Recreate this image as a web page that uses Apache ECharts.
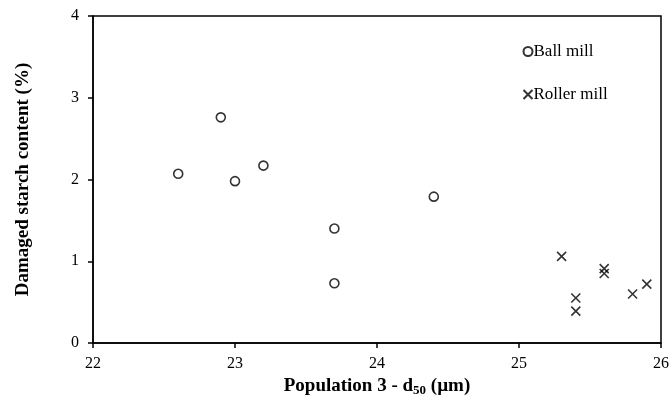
<!DOCTYPE html>
<html>
<head>
<meta charset="utf-8">
<script src="https://cdn.jsdelivr.net/npm/echarts@6/dist/echarts.min.js"></script>
<style>
  html, body { margin: 0; padding: 0; background: #fff; }
  #chart { width: 672px; height: 403px; }
</style>
</head>
<body>
<div id="chart"></div>
<script>
// values
var ballX = [22.6, 22.9, 23.0, 23.2, 23.7, 23.7, 24.4];
var ballY = [2.07, 2.76, 1.98, 2.17, 1.40, 0.73, 1.79];
var rollerX = [25.3, 25.4, 25.4, 25.6, 25.6, 25.8, 25.9];
var rollerY = [1.06, 0.55, 0.39, 0.91, 0.85, 0.60, 0.72];

var font = "'Liberation Serif', 'Times New Roman', serif";

function pairs(xs, ys) {
	return xs.map(function (x, i) {
		return [x, ys[i]];
	});
}

var chart = echarts.init(document.getElementById("chart"));

var option = {
	animation: false,
	textStyle: { fontFamily: font, color: "#000" },
	grid: {
		left: 93,
		right: 7,
		top: 16,
		bottom: 60,
		show: true,
		borderColor: "#000",
		borderWidth: 1.5,
		backgroundColor: "transparent"
	},
	legend: {
		orient: "vertical",
		left: 516,
		top: 38,
		itemGap: 26,
		itemWidth: 9,
		itemHeight: 9,
		textStyle: { fontFamily: font, fontSize: 17, color: "#000", padding: [0, 0, 0, -4] },
		data: ["Ball mill", "Roller mill"]
	},
	xAxis: {
		type: "value",
		min: 22,
		max: 26,
		interval: 1,
		name: "{b|Population 3 - d}{sub|50}{b| (µm)}",
		nameLocation: "middle",
		nameGap: 32,
		nameTextStyle: {
			rich: {
				b: { fontFamily: font, fontSize: 19, fontWeight: "bold", color: "#000" },
				sub: { fontFamily: font, fontSize: 13, fontWeight: "bold", color: "#000", verticalAlign: "bottom", padding: [8, 0, 0, 0] }
			}
		},
		axisLine: { lineStyle: { color: "#000", width: 1.5 } },
		axisTick: { show: true, length: 5, lineStyle: { color: "#000", width: 1.5 } },
		axisLabel: { fontFamily: font, fontSize: 16, color: "#000", margin: 13 },
		splitLine: { show: false }
	},
	yAxis: {
		type: "value",
		min: 0,
		max: 4,
		interval: 1,
		name: "Damaged starch content (%)",
		nameLocation: "middle",
		nameGap: 60,
		nameTextStyle: { fontFamily: font, fontSize: 19, fontWeight: "bold", color: "#000" },
		axisLine: { lineStyle: { color: "#000", width: 1.5 } },
		axisTick: { show: true, length: 5, lineStyle: { color: "#000", width: 1.5 } },
		axisLabel: { fontFamily: font, fontSize: 16, color: "#000", margin: 14 },
		splitLine: { show: false }
	},
	series: [{
		name: "Ball mill",
		type: "scatter",
		symbol: "circle",
		symbolSize: 9,
		itemStyle: { color: "#fff", borderColor: "#000", borderWidth: 1.6 },
		data: pairs(ballX, ballY)
	}, {
		name: "Roller mill",
		type: "scatter",
		symbol: "path://M0,0L10,10M10,0L0,10",
		symbolSize: 9,
		itemStyle: { color: "none", borderColor: "#000", borderWidth: 1.6 },
		data: pairs(rollerX, rollerY)
	}]
};

chart.setOption(option);
</script>
</body>
</html>
